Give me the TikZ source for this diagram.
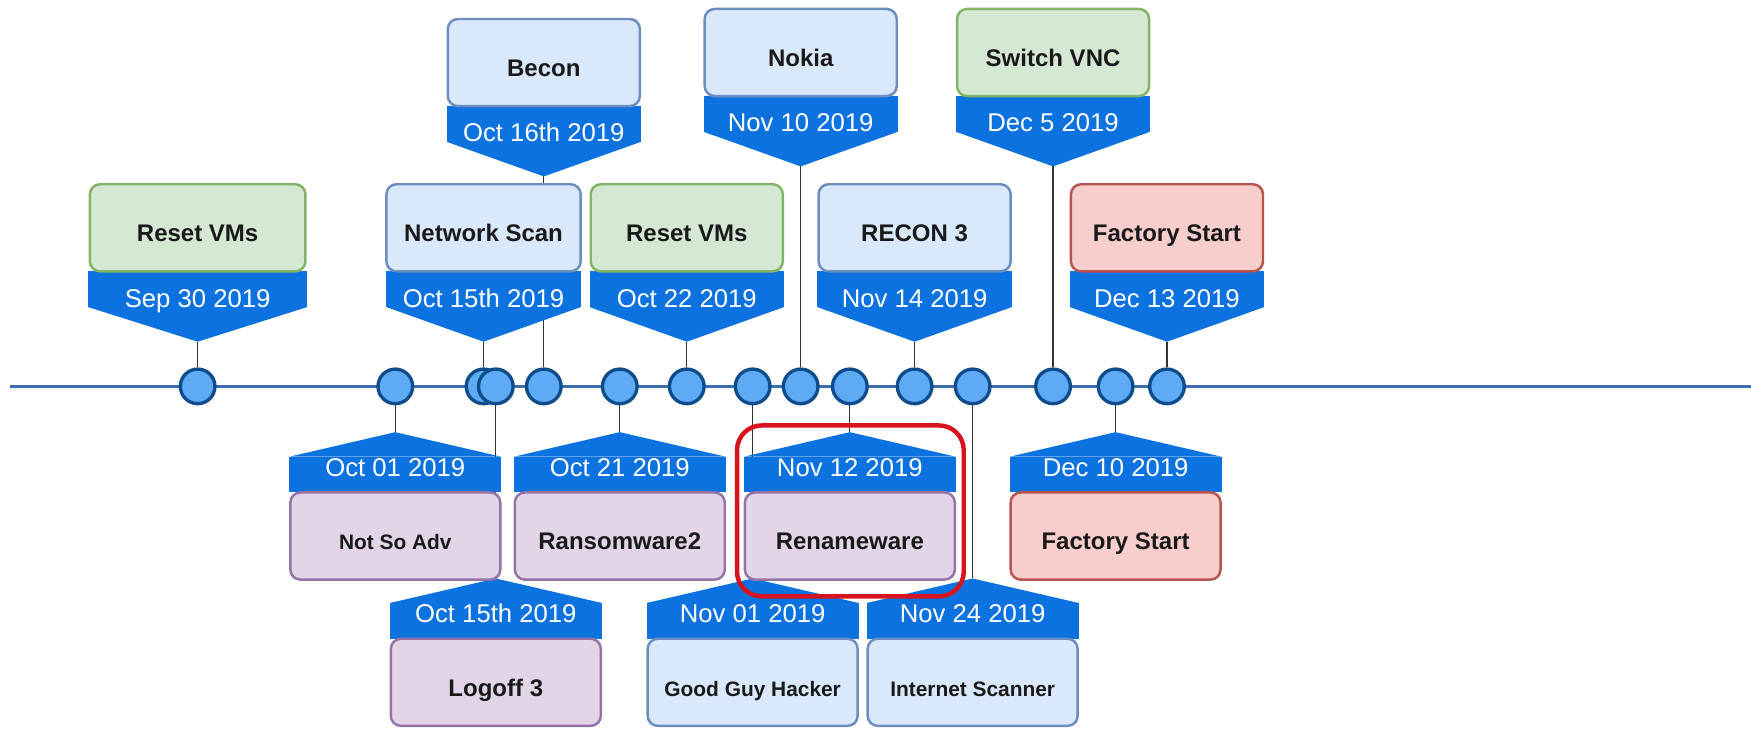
\documentclass[tikz,border=0pt]{standalone}
\usepackage{fontspec}
\setmainfont{Liberation Sans}
\usetikzlibrary{positioning,fit,backgrounds}

\definecolor{barblue}{HTML}{0B72E0}
\definecolor{dotfill}{HTML}{5EAAF5}
\definecolor{dotline}{HTML}{0F4C8C}
\definecolor{axisblue}{HTML}{3C6EAF}
\definecolor{greenfill}{HTML}{D5E8D4}
\definecolor{greenline}{HTML}{82B366}
\definecolor{bluefill}{HTML}{DAE8FC}
\definecolor{blueline}{HTML}{6C8EBF}
\definecolor{purplefill}{HTML}{E1D5E7}
\definecolor{purpleline}{HTML}{9673A6}
\definecolor{redfill}{HTML}{F8CECC}
\definecolor{redline}{HTML}{B85450}
\definecolor{markred}{HTML}{D7141E}

\begin{document}
\begin{tikzpicture}[
  x=1pt, y=-1pt,
  event/.style={rounded corners=9pt, line width=2.2pt, minimum width=172pt, minimum height=78pt, inner sep=0pt, outer sep=0pt, text height=25pt, text depth=0pt, text=black!90, font=\fontsize{21.5}{25}\selectfont\bfseries},
  greenbox/.style={event, draw=greenline, fill=greenfill},
  bluebox/.style={event, draw=blueline, fill=bluefill},
  purplebox/.style={event, draw=purpleline, fill=purplefill},
  redbox/.style={event, draw=redline, fill=redfill},
  lowbox/.style={minimum width=188pt},
  smalltext/.style={font=\fontsize{18.7}{22}\selectfont\bfseries},
  upbar/.style={fill=barblue, text=white, minimum width=174pt, minimum height=32pt, inner sep=0pt, outer sep=0pt, text height=32pt, text depth=0pt, font=\fontsize{23}{27}\selectfont},
  lowbar/.style={upbar, minimum width=190pt, text height=17.5pt, text depth=14.5pt},
  dot/.style={circle, draw=dotline, fill=dotfill, line width=3pt, minimum size=31pt, inner sep=0pt},
  link/.style={draw=black!80, line width=1.1pt},
  axis/.style={draw=axisblue, line width=3pt},
  highlight/.style={draw=markred, line width=4pt, rounded corners=22pt, inner sep=0pt}
]
\useasboundingbox (0,0) rectangle (1568,653);

\coordinate (axisstart) at (9,346);
\coordinate (axisend) at (1568,346);
\foreach \x [count=\i] in {177,354,433,444,487,555,615,674,717,761,819,871,943,999,1045}
  \node[dot] (d\i) at (\x,346) {};

% above the line
\node[upbar, minimum width=196pt, above=54pt of d1] (date1) {Sep 30 2019};
\node[greenbox, minimum width=193pt, above=0pt of date1] (ev1) {Reset VMs};
\node[upbar, above=54pt of d3] (date3) {Oct 15th 2019};
\node[bluebox, minimum width=174pt, above=0pt of date3] (ev3) {Network Scan};
\node[upbar, above=202pt of d5] (date5) {Oct 16th 2019};
\node[bluebox, above=0pt of date5] (ev5) {Becon};
\node[upbar, above=54pt of d7] (date7) {Oct 22 2019};
\node[greenbox, above=0pt of date7] (ev7) {Reset VMs};
\node[upbar, above=211pt of d9] (date9) {Nov 10 2019};
\node[bluebox, above=0pt of date9] (ev9) {Nokia};
\node[upbar, above=54pt of d11] (date11) {Nov 14 2019};
\node[bluebox, above=0pt of date11] (ev11) {RECON 3};
\node[upbar, above=211pt of d13] (date13) {Dec 5 2019};
\node[greenbox, above=0pt of date13] (ev13) {Switch VNC};
\node[upbar, above=54pt of d15] (date15) {Dec 13 2019};
\node[redbox, above=0pt of date15] (ev15) {Factory Start};

% below the line
\node[lowbar, below=46pt of d2] (date2) {Oct 01 2019};
\node[purplebox, lowbox, smalltext, below=0pt of date2] (ev2) {Not So Adv};
\node[lowbar, below=177pt of d4] (date4) {Oct 15th 2019};
\node[purplebox, lowbox, below=0pt of date4] (ev4) {Logoff 3};
\node[lowbar, below=46pt of d6] (date6) {Oct 21 2019};
\node[purplebox, lowbox, below=0pt of date6] (ev6) {Ransomware2};
\node[lowbar, below=177pt of d8] (date8) {Nov 01 2019};
\node[bluebox, lowbox, smalltext, below=0pt of date8] (ev8) {Good Guy Hacker};
\node[lowbar, below=46pt of d10] (date10) {Nov 12 2019};
\node[purplebox, lowbox, below=0pt of date10] (ev10) {Renameware};
\node[lowbar, below=177pt of d12] (date12) {Nov 24 2019};
\node[bluebox, lowbox, smalltext, below=0pt of date12] (ev12) {Internet Scanner};
\node[lowbar, below=46pt of d14] (date14) {Dec 10 2019};
\node[redbox, lowbox, below=0pt of date14] (ev14) {Factory Start};

\begin{scope}[on background layer]
\draw[axis] (axisstart) -- (axisend);
\foreach \i in {1,3,...,15}
  \draw[link] ([yshift=-31pt]date\i.south) -- (d\i);
\foreach \i in {2,4,...,14}
  \draw[link] (d\i) -- ([yshift=22pt]date\i.north);
\foreach \i in {1,3,...,15}
  \fill[barblue] (date\i.south west) -- (date\i.south east) -- ([yshift=-31pt]date\i.south) -- cycle;
\foreach \i in {2,4,...,14}
  \fill[barblue] (date\i.north west) -- (date\i.north east) -- ([yshift=22pt]date\i.north) -- cycle;
\end{scope}

\node[highlight, fit={(660,381) (863,534)}] (focus) {};
\end{tikzpicture}
\end{document}
